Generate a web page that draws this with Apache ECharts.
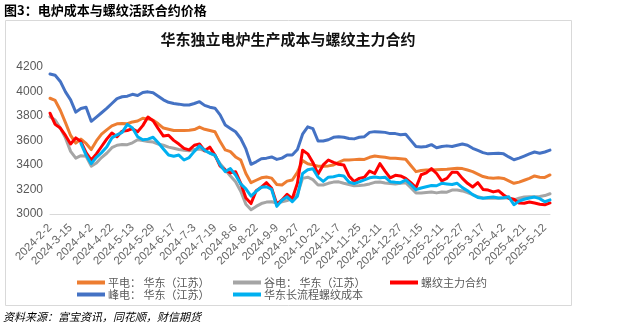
<!DOCTYPE html>
<html>
<head>
<meta charset="utf-8">
<script src="https://cdn.jsdelivr.net/npm/echarts@6/dist/echarts.min.js"></script>
<style>
html,body{margin:0;padding:0;background:#fff;}
#chart{width:619px;height:324px;}
</style>
</head>
<body>
<div id="chart"></div>
<script>
// ---- data ----
const tickLabels = ['2024-2-2','2024-3-15','2024-4-2','2024-4-22','2024-5-13','2024-5-29','2024-6-17','2024-7-3','2024-7-19','2024-8-6','2024-8-22','2024-9-9','2024-9-27','2024-10-22','2024-11-7','2024-11-25','2024-12-11','2024-12-27','2025-1-15','2025-2-11','2025-2-27','2025-3-17','2025-4-2','2025-4-21','2025-5-12'];
const seriesNames = ['平电： 华东（江苏）','谷电： 华东（江苏）','螺纹主力合约','峰电： 华东（江苏）','华东长流程螺纹成本'];

const flatPower = [3943,3925,3845,3745,3640,3578,3610,3575,3525,3595,3650,3685,3718,3735,3738,3735,3750,3758,3780,3775,3765,3735,3700,3690,3680,3680,3680,3683,3688,3708,3690,3680,3670,3590,3522,3508,3465,3440,3330,3255,3275,3295,3302,3292,3240,3236,3268,3277,3340,3435,3410,3400,3390,3388,3392,3399,3420,3440,3440,3443,3446,3445,3462,3472,3467,3462,3455,3454,3450,3446,3395,3345,3355,3358,3358,3360,3362,3364,3368,3372,3370,3358,3345,3325,3305,3295,3292,3295,3290,3270,3250,3260,3275,3290,3310,3300,3298,3318];
const valleyPower = [3793,3766,3700,3620,3510,3455,3475,3470,3390,3415,3460,3495,3540,3560,3566,3565,3580,3605,3598,3590,3586,3570,3560,3545,3535,3525,3520,3515,3525,3530,3515,3500,3475,3410,3360,3310,3263,3185,3080,3035,3062,3085,3097,3100,3090,3100,3110,3125,3160,3290,3300,3280,3236,3236,3250,3260,3262,3250,3240,3230,3232,3236,3245,3258,3260,3252,3248,3245,3250,3255,3215,3172,3172,3176,3180,3172,3180,3178,3195,3196,3188,3175,3158,3140,3130,3128,3128,3128,3130,3130,3114,3128,3138,3141,3141,3143,3150,3165];
const rebarFutures = [3821,3730,3700,3640,3570,3620,3590,3500,3440,3490,3550,3610,3660,3630,3675,3680,3695,3670,3720,3790,3760,3695,3635,3642,3600,3570,3535,3522,3560,3570,3515,3545,3481,3390,3358,3335,3345,3250,3130,3085,3190,3218,3255,3210,3080,3114,3160,3125,3250,3520,3490,3420,3325,3400,3440,3420,3405,3400,3310,3265,3290,3300,3350,3330,3410,3350,3295,3315,3310,3290,3255,3215,3320,3335,3370,3330,3270,3290,3340,3340,3290,3250,3220,3255,3200,3195,3180,3190,3155,3128,3120,3090,3088,3098,3090,3080,3075,3090];
const peakPower = [4140,4130,4080,3995,3930,3830,3860,3870,3755,3790,3825,3860,3900,3940,3955,3960,3975,3965,3990,3995,3988,3960,3930,3910,3900,3895,3888,3888,3900,3915,3885,3870,3862,3807,3725,3697,3670,3615,3530,3405,3425,3450,3455,3465,3445,3455,3480,3480,3525,3650,3710,3695,3595,3595,3605,3625,3630,3625,3615,3612,3625,3630,3665,3671,3668,3665,3655,3655,3645,3650,3600,3550,3545,3550,3565,3540,3550,3555,3550,3560,3570,3560,3535,3518,3500,3490,3492,3494,3490,3465,3442,3455,3472,3490,3505,3495,3505,3520];
const longProcessCost = [null,null,null,null,null,null,3575,3480,3410,3462,3500,3545,3620,3645,3665,3730,3700,3630,3605,3610,3625,3580,3530,3480,3470,3480,3440,3460,3510,3555,3520,3495,3480,3400,3345,3370,3318,3245,3205,3145,3185,3218,3222,3200,3062,3112,3140,3100,3145,3330,3360,3368,3300,3265,3300,3304,3315,3310,3260,3248,3262,3278,3295,3302,3295,3300,3263,3258,3255,3277,3240,3198,3212,3222,3232,3230,3250,3245,3240,3250,3215,3190,3158,3135,3128,3135,3138,3130,3132,3140,3075,3105,3120,3130,3138,3125,3100,3115];

// categories: one point every 3 trading days, tick label every 4th point
const pointsPerTick = 4;
const categories = [];
for (let i = 0; i < flatPower.length; i++) {
  categories.push(i % pointsPerTick === 0 ? (tickLabels[i / pointsPerTick] || '') : '');
}

const colors = ['#ED7D31', '#A5A5A5', '#FF0000', '#4472C4', '#00B0F0'];
const values = [flatPower, valleyPower, rebarFutures, peakPower, longProcessCost];

const chart = echarts.init(document.getElementById('chart'), null, {renderer: 'canvas'});

const legendPos = [
  {left: 77, top: 277}, {left: 233, top: 277}, {left: 390, top: 277},
  {left: 77, top: 289}, {left: 233, top: 289}
];

const option = {
  animation: false,
  backgroundColor: '#fff',
  title: [
    {text: '图3：电炉成本与螺纹活跃合约价格', left: 4, top: 4, padding: 0,
     textStyle: {fontSize: 13, fontWeight: 'bold', color: '#000', fontFamily: 'Noto Sans CJK SC'}},
    {text: '华东独立电炉生产成本与螺纹主力合约', left: 288, textAlign: 'center', top: 32, padding: 0,
     textStyle: {fontSize: 15, fontWeight: 'bold', color: '#111', fontFamily: 'Noto Sans CJK SC'}},
    {text: '资料来源：富宝资讯，同花顺，财信期货', left: 3, top: 311, padding: 0,
     textStyle: {fontSize: 11, fontStyle: 'italic', fontWeight: 'normal', color: '#000', fontFamily: 'Noto Sans CJK SC'}}
  ],
  graphic: [
    {type: 'rect', shape: {x: 5.5, y: 20.5, width: 566, height: 285}, style: {fill: 'none', stroke: '#D9D9D9', lineWidth: 1}, silent: true}
  ],
  legend: seriesNames.map((n, i) => ({
    data: [n], left: legendPos[i].left, top: legendPos[i].top, padding: 0,
    icon: 'rect', itemWidth: 28, itemHeight: 4, itemGap: 4,
    textStyle: {fontSize: 11, color: '#595959', fontFamily: 'Noto Sans CJK SC', padding: [0, 0, 0, -2]}
  })),
  grid: {left: 50, right: 69, top: 66.7, bottom: 110, containLabel: false},
  xAxis: {
    type: 'category', data: categories, boundaryGap: false,
    axisLine: {lineStyle: {color: '#D9D9D9', width: 1}},
    axisTick: {show: false},
    axisLabel: {interval: pointsPerTick - 1, rotate: 45, fontSize: 11.5, color: '#666666', margin: 12, fontFamily: 'Liberation Sans'},
    splitLine: {show: false}
  },
  yAxis: {
    type: 'value', min: 3000, max: 4200, interval: 200,
    axisLine: {show: false}, axisTick: {show: false}, splitLine: {show: false},
    axisLabel: {fontSize: 12, color: '#595959', margin: 7, fontFamily: 'Liberation Sans', formatter: (v) => String(v)}
  },
  series: seriesNames.map((n, i) => ({
    name: n, type: 'line', data: values[i], showSymbol: false, symbol: 'none',
    connectNulls: false,
    lineStyle: {color: colors[i], width: 3, cap: 'round', join: 'round'},
    itemStyle: {color: colors[i]}
  }))
};
chart.setOption(option);
</script>
</body>
</html>
